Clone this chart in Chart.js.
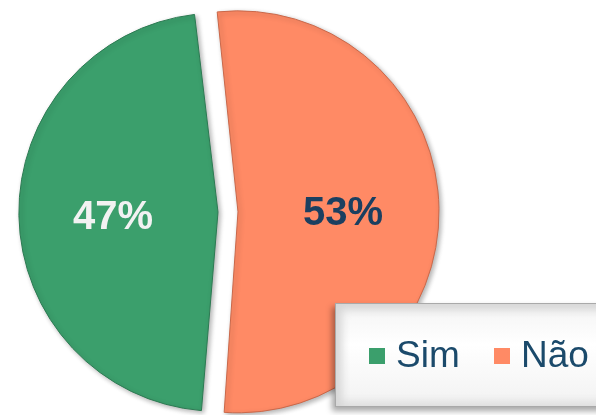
<!DOCTYPE html>
<html>
<head>
<meta charset="utf-8">
<script src="https://cdn.jsdelivr.net/npm/chart.js@4.4.1/dist/chart.umd.min.js"></script>
<style>
    html, body { margin: 0; padding: 0; background: #fff; overflow: hidden; }
    #wrap { position: relative; width: 596px; height: 415px; }
    #legend {
        position: absolute;
        left: 335px;
        top: 303px;
        width: 280px;
        height: 104px;
        box-sizing: border-box;
        background: linear-gradient(#f4f4f4, #ffffff 40%, #f2f2f2);
        border: 1px solid #a9a9a9;
        box-shadow: -3px 4px 6px rgba(0, 0, 0, 0.35), inset 10px 10px 8px -4px #d6d6d6, inset -5px -7px 8px -3px #dcdcdc;
        font-family: "Liberation Sans", Arial, sans-serif;
        font-size: 37px;
        color: #1B4A6B;
    }
    .item { position: absolute; top: 31px; line-height: 40px; }
    .box { display: inline-block; width: 16px; height: 16px; margin-right: 11px; vertical-align: 3px; }
</style>
</head>
<body>
<div id="wrap">
    <canvas id="pieChart" width="596" height="415"></canvas>
    <div id="legend"></div>
</div>
<script>

const labels = ["Sim", "Não"];
const values = [47, 53];
const colors = ["#3B9F6C", "#FF8A65"];
const borders = ["#2C7A52", "#C9684A"];
const labelColors = ["#F2F2F2", "#1B3F60"];
const offsets = [40, 40];

// percentage labels drawn inside each slice
const sliceLabels = {
    id: "sliceLabels",
    afterDatasetsDraw(chart) {
        const ctx = chart.ctx;
        const meta = chart.getDatasetMeta(0);
        const total = values.reduce((a, b) => a + b, 0);
        ctx.save();
        ctx.font = "bold 40px 'Liberation Sans', Arial, sans-serif";
        ctx.textAlign = "center";
        ctx.textBaseline = "middle";
        meta.data.forEach((arc, i) => {
            const mid = (arc.startAngle + arc.endAngle) / 2;
            const r = arc.outerRadius * 0.55 + offsets[i] / 4;
            ctx.fillStyle = labelColors[i];
            ctx.fillText(Math.round(values[i] / total * 100) + "%", arc.x + Math.cos(mid) * r, arc.y + Math.sin(mid) * r + 4);
        });
        ctx.restore();
    }
};

// soft shadow under the slices
const sliceShadow = {
    id: "sliceShadow",
    beforeDatasetsDraw(chart) {
        const ctx = chart.ctx;
        ctx.save();
        ctx.shadowColor = "rgba(0,0,0,0.30)";
        ctx.shadowBlur = 5;
        ctx.shadowOffsetX = 2;
        ctx.shadowOffsetY = 2;
    },
    afterDatasetsDraw(chart) {
        chart.ctx.restore();
    }
};

new Chart(document.getElementById("pieChart"), {
    type: "pie",
    data: {
        labels,
        datasets: [{
            data: values,
            backgroundColor: colors,
            borderColor: borders,
            borderWidth: 1,
            offset: offsets
        }]
    },
    options: {
        responsive: false,
        animation: false,
        devicePixelRatio: 1,
        rotation: 184.4,
        radius: 191,
        layout: {
            padding: { left: 0, right: 140, top: 9, bottom: 0 }
        },
        plugins: {
            legend: { display: false },
            tooltip: { enabled: false }
        }
    },
    plugins: [sliceShadow, sliceLabels]
});

// legend
const legend = document.getElementById("legend");
const legendX = [33, 158];
labels.forEach((label, i) => {
    legend.innerHTML += `
        <div class="item" style="left:${legendX[i]}px">
            <span class="box" style="background:${colors[i]}"></span>${label}
        </div>`;
});

</script>
</body>
</html>
